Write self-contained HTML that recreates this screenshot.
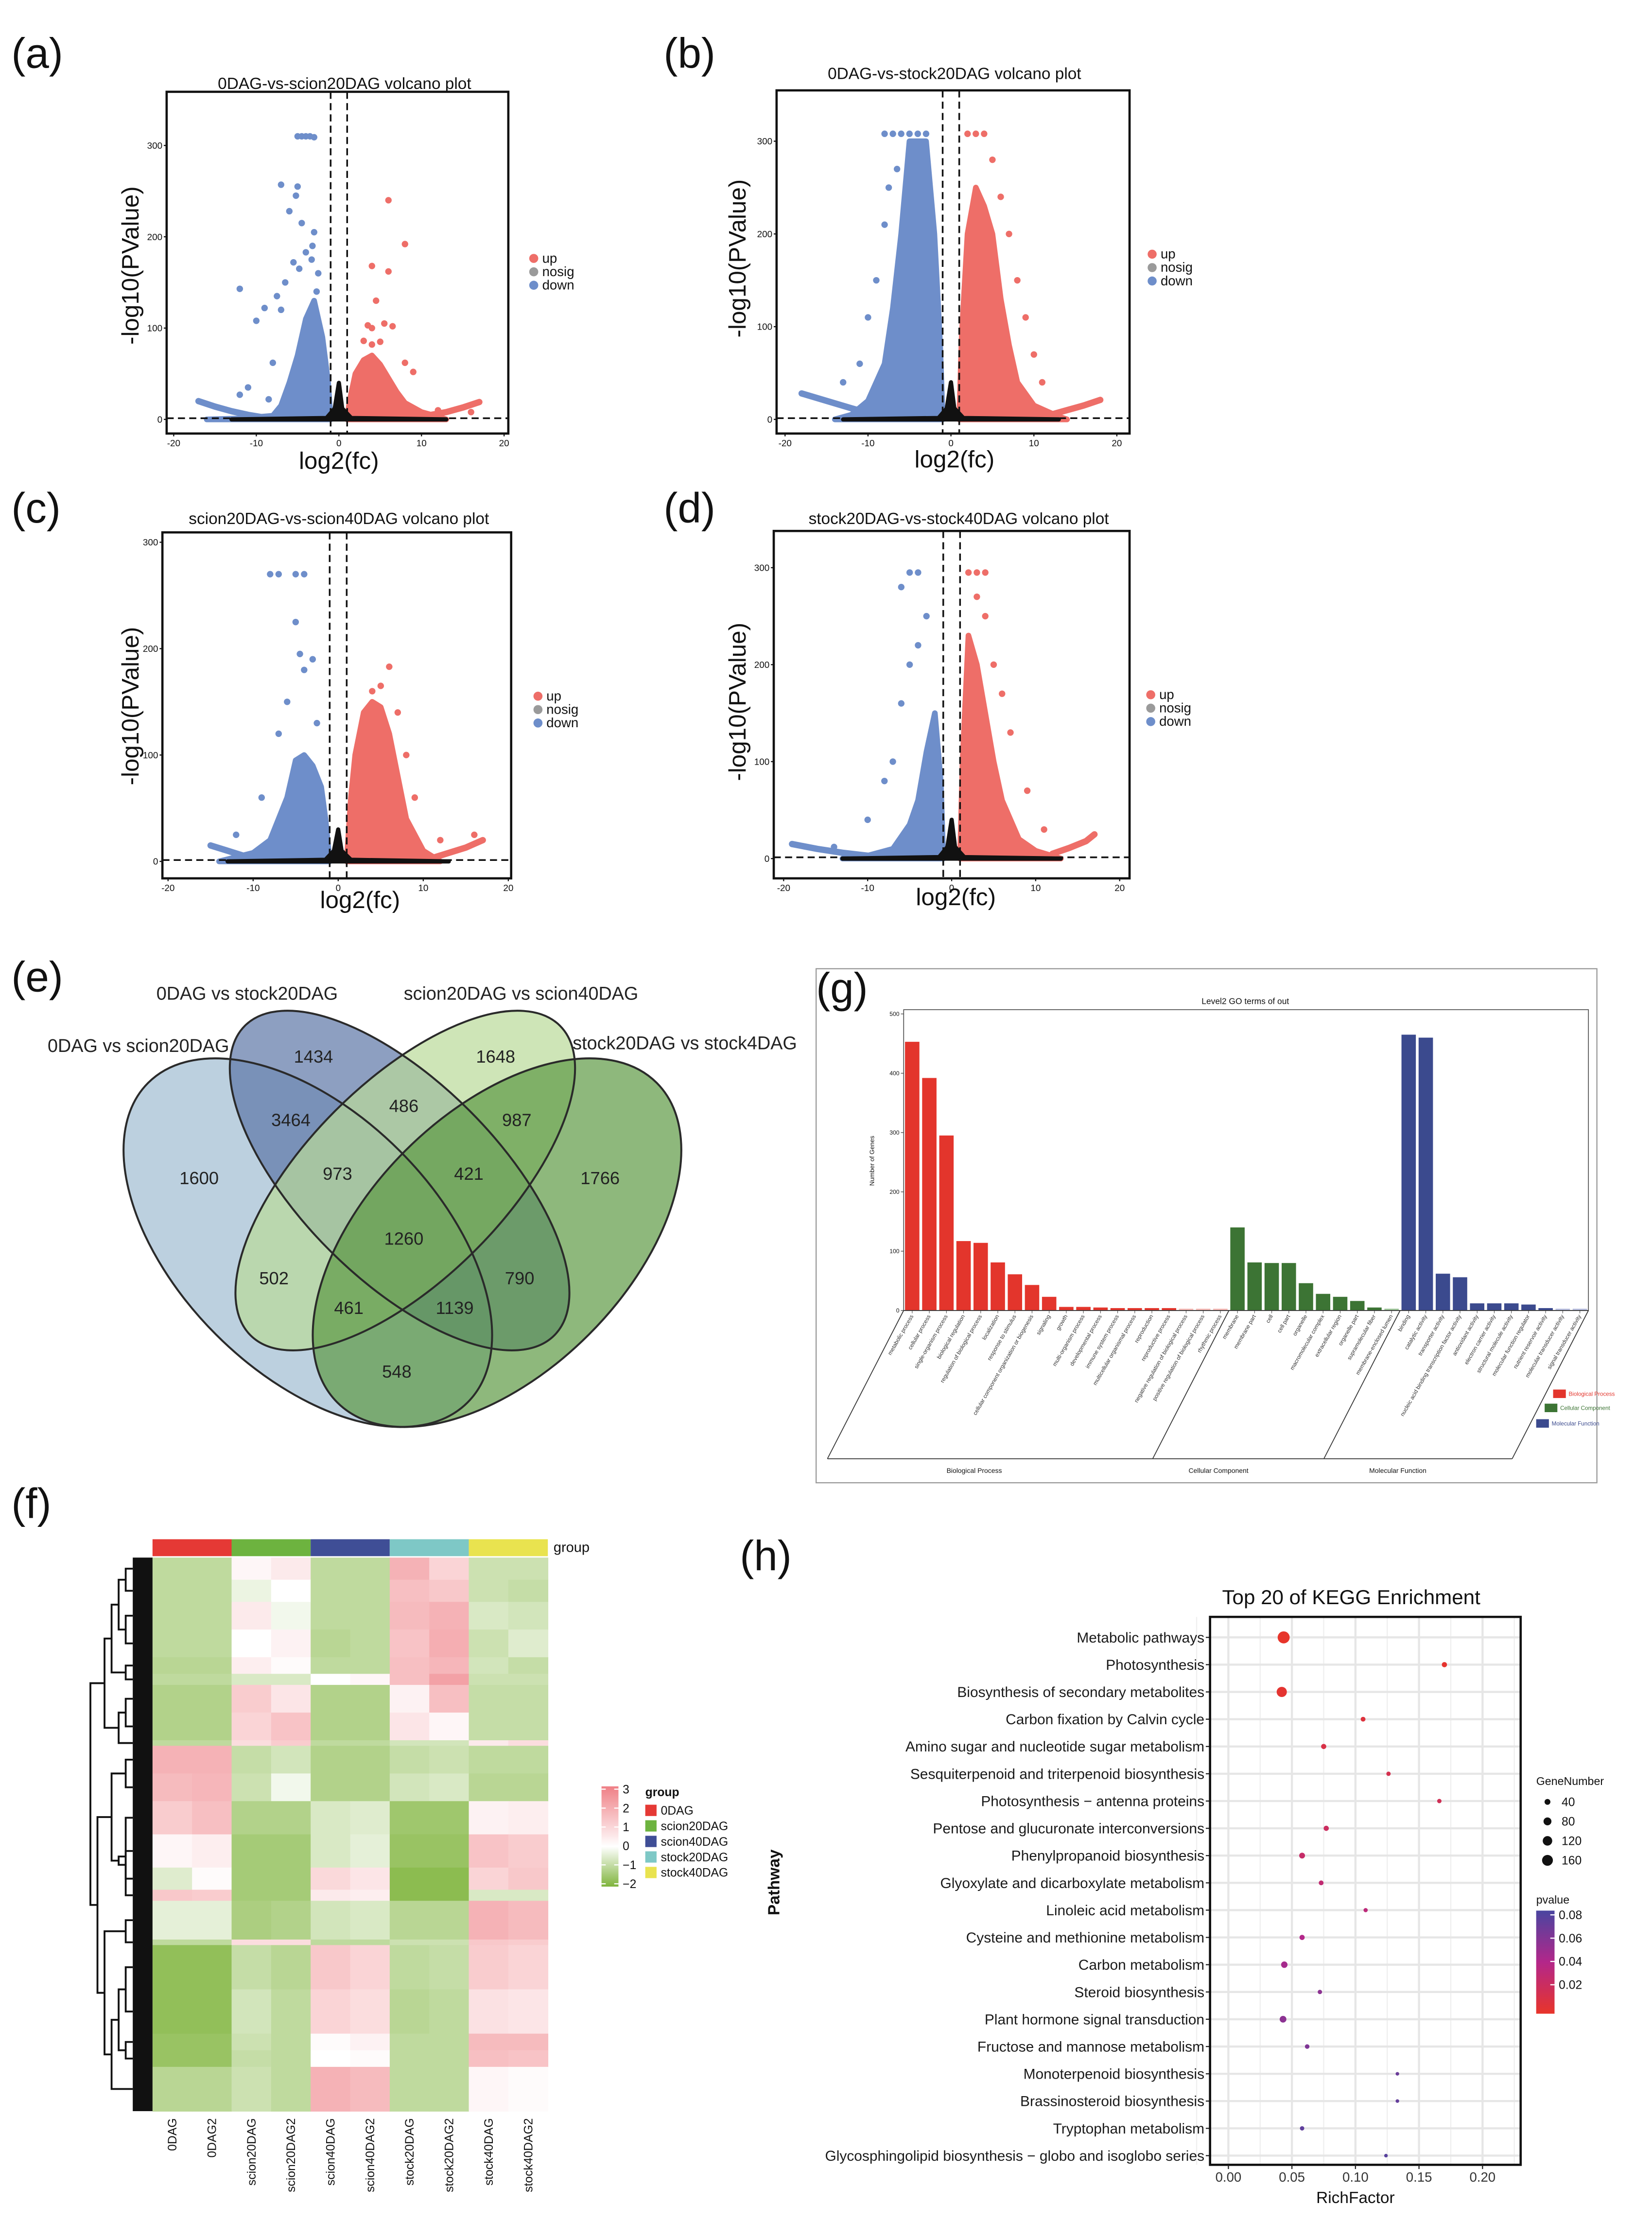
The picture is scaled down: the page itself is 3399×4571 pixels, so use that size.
<!DOCTYPE html>
<html><head><meta charset="utf-8"><style>
html,body{margin:0;padding:0;background:#fff;}
svg{display:block;font-family:"Liberation Sans",Arial,sans-serif;}
</style></head><body>
<svg id="fig" xmlns="http://www.w3.org/2000/svg" width="3399" height="4571" viewBox="0 0 1170 1573.5">
<rect x="0" y="0" width="1170" height="1573.5" fill="#fff"/>
</svg>
<script>
// ---------- VOLCANO DATA ----------
const volA_downBlob=[[-1,0],[-1.3,40],[-2,90],[-3,130],[-4,110],[-5,70],[-6,40],[-7,15],[-8,4],[-12,1],[-16,0]];
const volA_upBlob=[[1,0],[1.3,20],[2,50],[3,65],[4,70],[5,60],[6,45],[7,30],[8,18],[10,8],[12,3],[13,0]];
const volA_downArm=[[-17,20],[-15,14],[-13,9],[-11,5],[-9,2]];
const volA_upArm=[[10,3],[13,8],[15,13],[17,19]];
const volA_down=[[-5,310],[-4.5,310],[-4,310],[-3.5,310],[-3,309],[-7,257],[-5,255],[-6,228],[-4.5,215],[-3,205],[-3.2,190],[-4,183],[-5.5,172],[-4.8,165],[-12,143],[-7.5,135],[-9,122],[-10,108],[-8,62],[-11,35],[-12,27],[-8.5,22],[-5.2,245],[-3.3,175],[-2.5,160],[-6.5,150],[-7,120],[-2.7,140]];
const volA_up=[[6,240],[8,192],[4,168],[6,162],[4.5,130],[3.5,103],[4,100],[5.5,105],[6.5,102],[3,86],[4,82],[5,85],[8,62],[9,52],[12,10],[16,8]];
const volA_nosig=[[-13,0],[-1.5,1.5],[-0.5,12],[0,40],[0.4,12],[1.5,1.5],[13,0]];

const volB_downBlob=[[-1,0],[-1.3,80],[-2,200],[-3,300],[-5,300],[-6,200],[-7,120],[-8,60],[-10,20],[-12,5],[-14,0]];
const volB_upBlob=[[1,0],[1.3,90],[2,200],[3,250],[4,230],[5,200],[6,130],[7,80],[8,40],[10,15],[13,3],[14,0]];
const volB_downArm=[[-18,28],[-15,20],[-12,12],[-10,7],[-8,3]];
const volB_upArm=[[12,5],[14,10],[16,15],[18,21]];
const volB_down=[[-8,308],[-7,308],[-6,308],[-5,308],[-4,308],[-3,308],[-7.5,250],[-8,210],[-9,150],[-10,110],[-11,60],[-13,40],[-6.5,270]];
const volB_up=[[2,308],[3,308],[4,308],[5,280],[7,200],[8,150],[9,110],[10,70],[11,40],[6,240]];
const volB_nosig=[[-13,0],[-1.5,1.5],[-0.5,12],[0,40],[0.4,12],[1.5,1.5],[13,0]];

const volC_downBlob=[[-1,0],[-1.5,40],[-2,70],[-3,90],[-4,100],[-5,95],[-6,60],[-8,20],[-10,8],[-14,0]];
const volC_upBlob=[[1,0],[1.5,60],[2,100],[3,140],[4,150],[5,145],[6,120],[7,80],[8,40],[10,10],[12,0]];
const volC_downArm=[[-15,15],[-13,10],[-11,5],[-9,2]];
const volC_upArm=[[11,3],[13,8],[15,13],[17,20]];
const volC_down=[[-8,270],[-7,270],[-5,270],[-4,270],[-5,225],[-4.5,195],[-3,190],[-4,180],[-6,150],[-7,120],[-9,60],[-12,25],[-2.5,130]];
const volC_up=[[6,183],[5,165],[4,160],[7,140],[8,100],[9,60],[12,20],[16,25]];
const volC_nosig=[[-13,0],[-1.5,1.5],[-0.5,10],[0,30],[0.4,10],[1.5,1.5],[13,0]];

const volD_downBlob=[[-1,0],[-1.3,80],[-2,150],[-3,110],[-4,60],[-5,35],[-7,10],[-10,3],[-13,0]];
const volD_upBlob=[[1,0],[1.3,100],[2,230],[3,200],[4,150],[5,100],[6,60],[8,20],[10,8],[13,0]];
const volD_downArm=[[-19,15],[-16,10],[-13,6],[-10,3]];
const volD_upArm=[[12,5],[14,11],[16,18],[17,25]];
const volD_down=[[-5,295],[-4,295],[-6,280],[-3,250],[-4,220],[-5,200],[-6,160],[-7,100],[-8,80],[-10,40],[-14,12]];
const volD_up=[[2,295],[3,295],[4,295],[3,270],[4,250],[5,200],[6,170],[7,130],[9,70],[11,30]];
const volD_nosig=[[-13,0],[-1.5,1.5],[-0.5,12],[0,40],[0.4,12],[1.5,1.5],[13,0]];

// ---------- VENN DATA ----------
const vennCounts=[1434,1648,3464,486,987,1600,973,421,1766,1260,502,790,461,1139,548];

// ---------- GO DATA ----------
const goBPNames=["metabolic process","cellular process","single-organism process","biological regulation","regulation of biological process","localization","response to stimulus","cellular component organization or biogenesis","signaling","growth","multi-organism process","developmental process","immune system process","multicellular organismal process","reproduction","reproductive process","negative regulation of biological process","positive regulation of biological process","rhythmic process"];
const goBPValues=[453,392,295,117,114,81,61,43,23,6,6,5,4,4,4,4,3,3,3];
const goCCNames=["membrane","membrane part","cell","cell part","organelle","macromolecular complex","extracellular region","organelle part","supramolecular fiber","membrane-enclosed lumen"];
const goCCValues=[140,81,80,80,46,28,23,16,5,3];
const goMFNames=["binding","catalytic activity","transporter activity","nucleic acid binding transcription factor activity","antioxidant activity","electron carrier activity","structural molecule activity","molecular function regulator","nutrient reservoir activity","molecular transducer activity","signal transducer activity"];
const goMFValues=[465,460,62,56,12,12,12,10,4,3,3];
const goTicks=[0,100,200,300,400,500];

// ---------- HEATMAP DATA ----------
const hmColumns=["0DAG","0DAG2","scion20DAG","scion20DAG2","scion40DAG","scion40DAG2","stock20DAG","stock20DAG2","stock40DAG","stock40DAG2"];
const hmRowCounts=[4,4,5,5,3,2,5,5,1,5,5,6,6,4,2,7,1,8,8,3,3,8];
const hmRowValues=[
[-1,-1,0.2,0.5,-1,-1,1.8,1,-0.8,-0.8],
[-1,-1,-0.3,0,-1,-1,1.5,1.3,-0.8,-0.9],
[-1,-1,0.5,-0.2,-1,-1,1.6,1.8,-0.6,-0.7],
[-1,-1,0,0.3,-1.1,-1,1.4,1.9,-0.8,-0.5],
[-1.1,-1.1,0.4,0.1,-1,-1,1.5,1.7,-0.7,-0.9],
[-1,-1,-0.6,-0.6,0,0.2,1.5,2.2,-0.8,-0.8],
[-1.2,-1.2,1.2,0.6,-1.2,-1.2,0.3,1.5,-0.9,-0.9],
[-1.2,-1.2,1.0,1.4,-1.2,-1.2,0.6,0.2,-0.9,-0.9],
[-1,-1,0.8,1.2,-1,-1,-0.7,-0.7,0.5,0.8],
[1.8,1.8,-0.9,-0.7,-1.2,-1.2,-0.9,-0.8,-1,-1],
[1.6,1.7,-0.8,-0.2,-1.2,-1.2,-0.7,-0.6,-1.1,-1.1],
[1.2,1.5,-1.2,-1.2,-0.6,-0.5,-1.5,-1.5,0.3,0.4],
[0.2,0.4,-1.4,-1.4,-0.6,-0.4,-1.6,-1.6,1.4,1.2],
[-0.5,0.1,-1.4,-1.4,0.9,0.6,-1.8,-1.8,1.0,1.3],
[1.3,1.2,-1.4,-1.4,0.5,0.4,-1.8,-1.8,-0.6,-0.6],
[-0.4,-0.4,-1.3,-1.2,-0.7,-0.6,-1.1,-1.1,1.8,1.6],
[-1,-1,0.8,0.8,-1,-1,-0.8,-0.8,1.3,1.2],
[-1.7,-1.7,-0.9,-1.1,1.3,1.0,-1,-0.9,1.2,1.0],
[-1.7,-1.7,-0.7,-1,1.0,0.8,-1.1,-1,0.7,0.6],
[-1.6,-1.6,-0.8,-1,0.1,0.3,-1,-1,1.6,1.6],
[-1.6,-1.6,-0.9,-1,0,0.1,-1,-1,1.5,1.4],
[-1.1,-1.1,-0.8,-1,1.8,1.6,-1,-1,0.2,0.1]];
const hmTree=[[[[[0,1],[2,3]],[4,5]],[[6,7],8]],[[[9,10],[[11,14],[12,13]]],[[15,16],[[[17,18],[19,20]],21]]]];
const hmGroups=["0DAG","scion20DAG","scion40DAG","stock20DAG","stock40DAG"];
const hmScaleTicks=[3,2,1,0,-1,-2];

// ---------- KEGG DATA ----------
const keggPathways=["Metabolic pathways","Photosynthesis","Biosynthesis of secondary metabolites","Carbon fixation by Calvin cycle","Amino sugar and nucleotide sugar metabolism","Sesquiterpenoid and triterpenoid biosynthesis","Photosynthesis \u2212 antenna proteins","Pentose and glucuronate interconversions","Phenylpropanoid biosynthesis","Glyoxylate and dicarboxylate metabolism","Linoleic acid metabolism","Cysteine and methionine metabolism","Carbon metabolism","Steroid biosynthesis","Plant hormone signal transduction","Fructose and mannose metabolism","Monoterpenoid biosynthesis","Brassinosteroid biosynthesis","Tryptophan metabolism","Glycosphingolipid biosynthesis \u2212 globo and isoglobo series"];
const keggRich=[0.0435,0.170,0.042,0.106,0.075,0.126,0.166,0.077,0.058,0.073,0.108,0.058,0.044,0.072,0.043,0.062,0.133,0.133,0.058,0.124];
const keggGenes=[200,30,140,25,30,20,20,30,40,25,18,30,50,20,55,22,12,12,20,12];
const keggP=[0.0005,0.002,0.003,0.008,0.012,0.015,0.018,0.022,0.026,0.030,0.033,0.040,0.045,0.055,0.055,0.060,0.068,0.070,0.072,0.075];
const keggXTicks=[0,0.05,0.10,0.15,0.20];
const keggSizeLegend=[40,80,120,160];
const keggPLegend=[0.08,0.06,0.04,0.02];

// ---------- HELPERS ----------
const NS="http://www.w3.org/2000/svg";
const svg=document.getElementById("fig");
function mk(tag,attrs,parent){const e=document.createElementNS(NS,tag);for(const k in attrs)e.setAttribute(k,attrs[k]);(parent||svg).appendChild(e);return e;}
function tx(parent,x,y,s,size,attrs){const a=Object.assign({x:x,y:y,"font-size":size,fill:"#111"},attrs||{});const t=mk("text",a,parent);t.textContent=s;return t;}
function hex(c){return [parseInt(c.slice(1,3),16),parseInt(c.slice(3,5),16),parseInt(c.slice(5,7),16)];}
function mix(a,b,t){const A=hex(a),B=hex(b);return "rgb("+A.map((v,i)=>Math.round(v+(B[i]-v)*t)).join(",")+")";}

// ---------- PANEL LABELS ----------
const panelLabels=[["(a)",8,48],["(b)",470,48],["(c)",8,370],["(d)",470,370],["(e)",8,702],["(g)",578,710],["(f)",8,1075],["(h)",524,1112]];
panelLabels.forEach(p=>{
 const t=tx(svg,p[1],p[2],p[0],30,{});
 
 
});

// ---------- VOLCANO ----------
function drawVolcano(name,cfg,d){
 const g=mk("g",{});
 
 
 const sx=v=>cfg.xr[0]+(v+20)/40*(cfg.xr[1]-cfg.xr[0]);
 const sy=v=>cfg.yr[0]-v/300*(cfg.yr[0]-cfg.yr[1]);
 const [x0,y0,x1,y1]=cfg.box;
 const cid="clip-"+name;
 const cp=mk("clipPath",{id:cid},g);mk("rect",{x:x0,y:y0,width:x1-x0,height:y1-y0},cp);
 const pg=mk("g",{"clip-path":"url(#"+cid+")"},g);
 const UP="#EE6E68",DN="#6E8ECA";
 [[d.downBlob,DN,'down-dense-region'],[d.upBlob,UP,'up-dense-region']].forEach(b=>{
  const p=mk("polygon",{points:b[0].map(q=>sx(q[0])+","+sy(q[1])).join(" "),fill:b[1],stroke:b[1],"stroke-width":4,"stroke-linejoin":"round"},pg);
  
  
 });
 [[d.downArm,DN,'down-arm'],[d.upArm,UP,'up-arm']].forEach(b=>{
  const p=mk("polyline",{points:b[0].map(q=>sx(q[0])+","+sy(q[1])).join(" "),fill:"none",stroke:b[1],"stroke-width":4.5,"stroke-linecap":"round","stroke-linejoin":"round"},pg);
  
  
 });
 d.down.forEach(q=>{const c=mk("circle",{cx:sx(q[0]),cy:sy(q[1]),r:2.3,fill:DN},pg);
  
  });
 d.up.forEach(q=>{const c=mk("circle",{cx:sx(q[0]),cy:sy(q[1]),r:2.3,fill:UP},pg);
  
  });
 const ns=mk("polygon",{points:d.nosig.map(q=>sx(q[0])+","+sy(q[1])).join(" "),fill:"#111",stroke:"#111","stroke-width":3,"stroke-linejoin":"round"},pg);
 
 
 [-1,1].forEach(v=>mk("line",{x1:sx(v),x2:sx(v),y1:y0,y2:y1,stroke:"#111","stroke-width":1.2,"stroke-dasharray":"5,3"},pg));
 mk("line",{x1:x0,x2:x1,y1:sy(1.3),y2:sy(1.3),stroke:"#111","stroke-width":1.2,"stroke-dasharray":"5,3"},pg);
 const box=mk("rect",{x:x0,y:y0,width:x1-x0,height:y1-y0,fill:"none",stroke:"#111","stroke-width":1.6},g);
 
 
 [0,100,200,300].forEach(v=>{mk("line",{x1:x0-2,x2:x0,y1:sy(v),y2:sy(v),stroke:"#111","stroke-width":0.8},g);
  const t=tx(g,x0-3,sy(v)+2.3,String(v),6.5,{"text-anchor":"end"});
  
  });
 [-20,-10,0,10,20].forEach(v=>{mk("line",{x1:sx(v),x2:sx(v),y1:y1,y2:y1+2,stroke:"#111","stroke-width":0.8},g);
  const t=tx(g,sx(v),y1+9,String(v),6.5,{"text-anchor":"middle"});
  
  });
 const tt=tx(g,cfg.title[1],cfg.title[2],cfg.title[0],11.5,{"text-anchor":"middle"});
 
 
 const yl=tx(g,0,0,"-log10(PValue)",17,{"text-anchor":"middle",transform:"translate("+cfg.ylab[0]+","+cfg.ylab[1]+") rotate(-90)"});
 
 
 const xl=tx(g,cfg.xlab[0],cfg.xlab[1],"log2(fc)",17,{"text-anchor":"middle"});
 
 
 [["up",UP],["nosig","#9a9a9a"],["down",DN]].forEach((e,i)=>{
  const y=cfg.leg[1]+i*9.5;
  const c=mk("circle",{cx:cfg.leg[0],cy:y,r:3.2,fill:e[1]},g);
  
  
  const t=tx(g,cfg.leg[0]+6,y+3,e[0],9.5,{});
  
  
 });
}
drawVolcano("volcano-a",{box:[118,65,360,307],xr:[123,357],yr:[297,103],title:["0DAG-vs-scion20DAG volcano plot",244,63],ylab:[98,188],xlab:[240,332],leg:[378,183]},{downBlob:volA_downBlob,upBlob:volA_upBlob,downArm:volA_downArm,upArm:volA_upArm,down:volA_down,up:volA_up,nosig:volA_nosig});
drawVolcano("volcano-b",{box:[550,64,800,307],xr:[556,791],yr:[297,100],title:["0DAG-vs-stock20DAG volcano plot",676,56],ylab:[528,183],xlab:[676,331],leg:[816,180]},{downBlob:volB_downBlob,upBlob:volB_upBlob,downArm:volB_downArm,upArm:volB_upArm,down:volB_down,up:volB_up,nosig:volB_nosig});
drawVolcano("volcano-c",{box:[115,377,362,622],xr:[119,360],yr:[610,384],title:["scion20DAG-vs-scion40DAG volcano plot",240,371],ylab:[98,500],xlab:[255,643],leg:[381,493]},{downBlob:volC_downBlob,upBlob:volC_upBlob,downArm:volC_downArm,upArm:volC_upArm,down:volC_down,up:volC_up,nosig:volC_nosig});
drawVolcano("volcano-d",{box:[548,376,800,622],xr:[555,793],yr:[608,402],title:["stock20DAG-vs-stock40DAG volcano plot",679,371],ylab:[528,497],xlab:[677,641],leg:[815,492]},{downBlob:volD_downBlob,upBlob:volD_upBlob,downArm:volD_downArm,upArm:volD_upArm,down:volD_down,up:volD_up,nosig:volD_nosig});

// ---------- VENN ----------
(function(){
 const g=mk("g",{});
 
 
 const ells=[
  ["set-0dag-vs-scion20dag",218,880,160,92,45,"#B5CBDB",0.9],
  ["set-0dag-vs-stock20dag",283,836,155,70,45,"#5C76A6",0.7],
  ["set-scion20dag-vs-scion40dag",287,836,155,70,-45,"#B9DA98",0.7],
  ["set-stock20dag-vs-stock40dag",352,880,160,92,-45,"#5E9A45",0.7]];
 ells.forEach(e=>{
  const el=mk("ellipse",{cx:e[1],cy:e[2],rx:e[3],ry:e[4],transform:"rotate("+e[5]+" "+e[1]+" "+e[2]+")",fill:e[6],"fill-opacity":e[7],stroke:"none"},g);
  
  
 });
 ells.forEach(e=>mk("ellipse",{cx:e[1],cy:e[2],rx:e[3],ry:e[4],transform:"rotate("+e[5]+" "+e[1]+" "+e[2]+")",fill:"none",stroke:"#2a2a2a","stroke-width":1.4},g));
 const setLabels=[["0DAG vs scion20DAG",98,745],["0DAG vs stock20DAG",175,708],["scion20DAG vs scion40DAG",369,708],["stock20DAG vs stock4DAG",485,743]];
 setLabels.forEach(s=>{const t=tx(g,s[1],s[2],s[0],13,{"text-anchor":"middle",fill:"#222"});
  
  });
 const pos=[[222,748],[351,748],[206,793],[286,783],[366,793],[141,834],[239,831],[332,831],[425,834],[286,877],[194,905],[368,905],[247,926],[322,926],[281,971]];
 vennCounts.forEach((c,i)=>{const t=tx(g,pos[i][0],pos[i][1]+4.5,String(c),12.5,{"text-anchor":"middle",fill:"#222"});
  
  });
})();

// ---------- GO ----------
(function(){
 const g=mk("g",{});
 
 
 const fr=mk("rect",{x:578,y:686,width:553,height:364,fill:"none",stroke:"#999","stroke-width":0.8},g);
 
 
 const X0=640,X1=1125,Y0=928,Y5=718;
 const sy=v=>Y0-v/500*(Y0-Y5);
 mk("rect",{x:X0,y:715,width:X1-X0,height:Y0-715,fill:"none",stroke:"#555","stroke-width":0.6},g);
 const t0=tx(g,882,711,"Level2 GO terms of out",6,{"text-anchor":"middle"});
 
 
 goTicks.forEach(v=>{mk("line",{x1:X0-2,x2:X0,y1:sy(v),y2:sy(v),stroke:"#555","stroke-width":0.5},g);
  const t=tx(g,X0-3,sy(v)+1.5,String(v),4.2,{"text-anchor":"end"});
  
  });
 const yl=tx(g,0,0,"Number of Genes",4.5,{"text-anchor":"middle",transform:"translate(619,822) rotate(-90)"});
 
 
 const all=[];
 goBPNames.forEach((n,i)=>all.push([n,goBPValues[i],"#E3352C","#F6B9B5"]));
 goCCNames.forEach((n,i)=>all.push([n,goCCValues[i],"#3C7434","#9FC79A"]));
 goMFNames.forEach((n,i)=>all.push([n,goMFValues[i],"#3B4A8E","#B8BEE0"]));
 const slot=(X1-X0)/all.length;
 all.forEach((b,i)=>{
  const cx=X0+(i+0.5)*slot;
  const r=mk("rect",{x:cx-slot*0.42,y:sy(b[1]),width:slot*0.84,height:Y0-sy(b[1]),fill:b[1]<=3?b[3]:b[2]},g);
  
  
  mk("line",{x1:cx,x2:cx,y1:Y0,y2:Y0+2,stroke:"#555","stroke-width":0.4},g);
  const t=tx(g,0,0,b[0],4,{"text-anchor":"end",transform:"translate("+(cx+1)+","+(Y0+4)+") rotate(-60)",fill:"#333"});
  
  
 });
 const d=54,H=105;
 const seps=[X0,X0+19*slot,X0+29*slot,X1];
 seps.forEach(x=>mk("line",{x1:x,y1:Y0,x2:x-d,y2:Y0+H,stroke:"#333","stroke-width":0.6},g));
 mk("line",{x1:X0-d,y1:Y0+H,x2:X1-d,y2:Y0+H,stroke:"#333","stroke-width":0.6},g);
 mk("line",{x1:X0,y1:Y0,x2:X1,y2:Y0,stroke:"#333","stroke-width":0.6},g);
 [["Biological Process",690],["Cellular Component",863],["Molecular Function",990]].forEach(c=>{
  const t=tx(g,c[1],1043,c[0],4.8,{"text-anchor":"middle"});
  
  });
 [["Biological Process","#E3352C",1100,987],["Cellular Component","#3C7434",1094,997],["Molecular Function","#3B4A8E",1088,1008]].forEach(l=>{
  const r=mk("rect",{x:l[2],y:l[3]-3,width:9,height:6,fill:l[1]},g);
  
  
  const t=tx(g,l[2]+11,l[3]+1.5,l[0],4,{fill:l[1]});
  
  });
})();

// ---------- HEATMAP ----------
(function(){
 const g=mk("g",{});
 
 
 const X0=108,X1=388,Y0=1103,Y1=1495;
 const cw=(X1-X0)/hmColumns.length;
 const total=hmRowCounts.reduce((a,b)=>a+b,0);
 const uh=(Y1-Y0)/total;
 const col=v=>v>=0?mix("#FFFFFF","#EF7F85",Math.min(v/3,1)):mix("#FFFFFF","#7FB43C",Math.min(-v/2,1));
 const gcol=["#E53935","#6DB33F","#3F4E96","#7EC8C6","#E9E34F"];
 hmGroups.forEach((n,i)=>{const r=mk("rect",{x:X0+i*2*cw,y:1090,width:2*cw,height:12,fill:gcol[i]},g);
  
  });
 const gt=tx(g,392,1099,"group",10,{});
 
 
 let y=Y0;const centers=[];
 hmRowCounts.forEach((n,ri)=>{
  const h=n*uh;centers.push(y+h/2);
  hmRowValues[ri].forEach((v,ci)=>{
   const r=mk("rect",{x:X0+ci*cw,y:y,width:cw+0.3,height:h+0.3,fill:col(v)},g);
   
   
  });
  y+=h;
 });
 const dk=mk("rect",{x:94,y:Y0,width:14,height:Y1-Y0,fill:"#111"},g);
 
 
 function draw(node){
  if(typeof node==="number")return {x:94,y:centers[node]};
  const a=draw(node[0]),b=draw(node[1]);
  const x=Math.min(a.x,b.x)-5;
  const p=mk("polyline",{points:a.x+","+a.y+" "+x+","+a.y+" "+x+","+b.y+" "+b.x+","+b.y,fill:"none",stroke:"#111","stroke-width":1.3},g);
  
  
  return {x:x,y:(a.y+b.y)/2};
 }
 draw(hmTree);
 hmColumns.forEach((c,i)=>{const t=tx(g,0,0,c,8.5,{"text-anchor":"end",transform:"translate("+(X0+(i+0.5)*cw+3)+","+(Y1+5)+") rotate(-90)"});
  
  });
 const gd=mk("linearGradient",{id:"hmgrad",x1:0,y1:0,x2:0,y2:1},g);
 [[0,"#EF7F85"],[0.6,"#FFFFFF"],[1,"#7FB43C"]].forEach(s=>mk("stop",{offset:s[0],"stop-color":s[1]},gd));
 const cb=mk("rect",{x:426,y:1265,width:12,height:71,fill:"url(#hmgrad)"},g);
 
 
 const ys=v=>1267-(v-3)/5*67;
 hmScaleTicks.forEach(v=>{mk("line",{x1:426,x2:429,y1:ys(v),y2:ys(v),stroke:"#fff","stroke-width":0.8},g);mk("line",{x1:435,x2:438,y1:ys(v),y2:ys(v),stroke:"#fff","stroke-width":0.8},g);
  const t=tx(g,441,ys(v)+3,v<0?"\u2212"+(-v):String(v),8.5,{});
  
  });
 const lt=tx(g,457,1272,"group",8.5,{"font-weight":"bold"});
 
 
 hmGroups.forEach((n,i)=>{const yy=1278+i*11;
  const r=mk("rect",{x:457,y:yy,width:8,height:8,fill:gcol[i]},g);
  
  
  const t=tx(g,468,yy+7,n,8.5,{});
  
  });
})();

// ---------- KEGG ----------
(function(){
 const g=mk("g",{});
 
 
 const X0=857,X1=1077,Y0=1145,Y1=1533;
 const sx=v=>870+v/0.2*180;
 const rowY=i=>1159.5+i*(1526.5-1159.5)/19;
 for(let v=-0.025;v<=0.225;v+=0.05)mk("line",{x1:sx(v),x2:sx(v),y1:Y0,y2:Y1,stroke:"#EFEFEF","stroke-width":0.8},g);
 keggXTicks.forEach(v=>mk("line",{x1:sx(v),x2:sx(v),y1:Y0,y2:Y1,stroke:"#E6E6E6","stroke-width":1.5},g));
 keggPathways.forEach((p,i)=>mk("line",{x1:X0,x2:X1,y1:rowY(i),y2:rowY(i),stroke:"#E6E6E6","stroke-width":1.5},g));
 const pc=v=>v<0.04?mix("#E8352A","#B3278A",v/0.04):mix("#B3278A","#4A45A0",Math.min((v-0.04)/0.04,1));
 const rr=n=>0.3+Math.sqrt(n)*0.28;
 keggPathways.forEach((p,i)=>{
  const c=mk("circle",{cx:sx(keggRich[i]),cy:rowY(i),r:rr(keggGenes[i]),fill:pc(keggP[i])},g);
  
  
  mk("line",{x1:X0-3,x2:X0,y1:rowY(i),y2:rowY(i),stroke:"#222","stroke-width":0.8},g);
  const t=tx(g,X0-4,rowY(i)+3.6,p,10.3,{"text-anchor":"end",fill:"#1a1a1a"});
  
  
 });
 const fr=mk("rect",{x:X0,y:Y0,width:X1-X0,height:Y1-Y0,fill:"none",stroke:"#111","stroke-width":1.6},g);
 
 
 keggXTicks.forEach(v=>{mk("line",{x1:sx(v),x2:sx(v),y1:Y1,y2:Y1+3,stroke:"#222","stroke-width":0.8},g);
  const t=tx(g,sx(v),Y1+12,v.toFixed(2),9.5,{"text-anchor":"middle",fill:"#333"});
  
  });
 const ti=tx(g,957,1136,"Top 20 of KEGG Enrichment",14.5,{"text-anchor":"middle"});
 
 
 const xl=tx(g,960,1560,"RichFactor",11.5,{"text-anchor":"middle"});
 
 
 const yl=tx(g,0,0,"Pathway",11.5,{"text-anchor":"middle","font-weight":"bold",transform:"translate(552,1333) rotate(-90)"});
 
 
 const gn=tx(g,1088,1264,"GeneNumber",8,{});
 
 
 keggSizeLegend.forEach((n,i)=>{const yy=1276+i*13.8;
  const c=mk("circle",{cx:1096,cy:yy,r:rr(n),fill:"#111"},g);
  
  
  const t=tx(g,1106,yy+3,String(n),8.5,{});
  
  });
 const pt=tx(g,1088,1348,"pvalue",8,{});
 
 
 const gd=mk("linearGradient",{id:"kgrad",x1:0,y1:0,x2:0,y2:1},g);
 [[0,"#4A45A0"],[0.5,"#B3278A"],[1,"#E8352A"]].forEach(s=>mk("stop",{offset:s[0],"stop-color":s[1]},gd));
 const cb=mk("rect",{x:1088,y:1353,width:13,height:73,fill:"url(#kgrad)"},g);
 
 
 keggPLegend.forEach(v=>{const yy=1356+(0.08-v)/0.02*16.5;
  mk("line",{x1:1098,x2:1101,y1:yy,y2:yy,stroke:"#fff","stroke-width":0.8},g);
  const t=tx(g,1104,yy+3,v.toFixed(2),8.5,{});
  
  });
})();
</script>
</body></html>
